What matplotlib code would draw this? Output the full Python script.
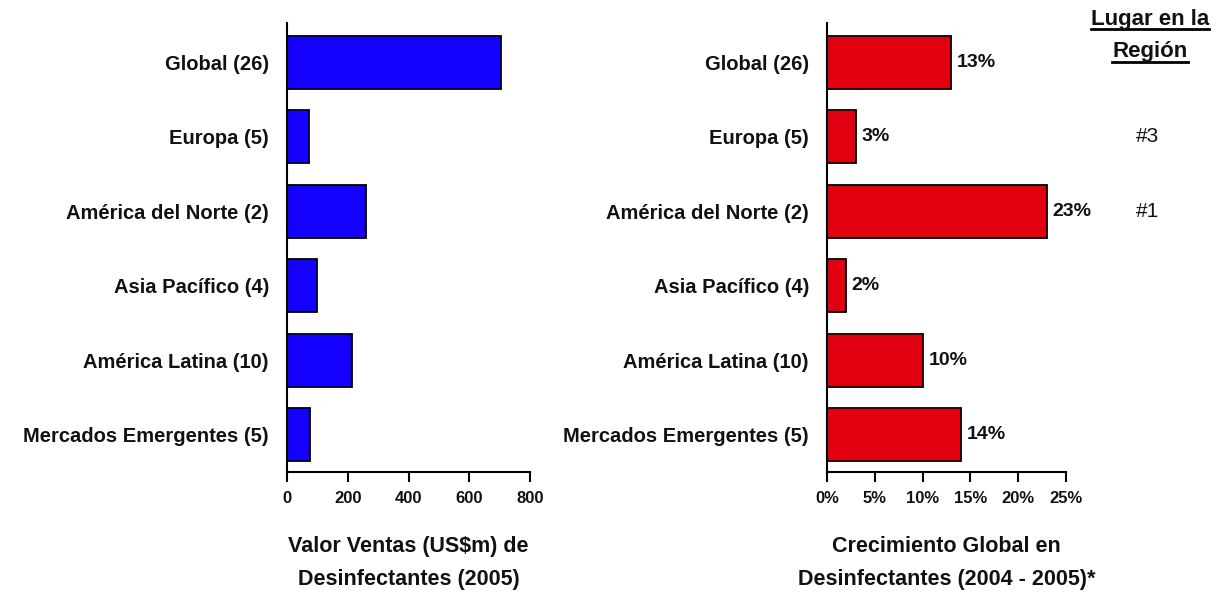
import matplotlib.pyplot as plt
from matplotlib.lines import Line2D
from matplotlib.transforms import blended_transform_factory
import numpy as np

# data
regiones = ["Global (26)", "Europa (5)", "América del Norte (2)",
            "Asia Pacífico (4)", "América Latina (10)", "Mercados Emergentes (5)"]
ventas = [706, 73, 260, 98, 215, 77]          # US$m 2005
crecimiento = [13, 3, 23, 2, 10, 14]          # % 2004-2005
lugar = ["", "#3", "#1", "", "", ""]
ventas_ticks = [0, 200, 400, 600, 800]
crec_ticks = [0, 5, 10, 15, 20, 25]

plt.rcParams['font.family'] = ['Liberation Sans', 'DejaVu Sans']

fig = plt.figure(figsize=(12.17, 5.95), dpi=100)
ax1 = fig.add_axes([287/1217, 1-472/595, 243/1217, 449/595])
ax2 = fig.add_axes([827/1217, 1-472/595, 239/1217, 449/595])

pos = np.arange(len(regiones))[::-1]

def style(ax):
    for s in ['top', 'right']:
        ax.spines[s].set_visible(False)
    for s in ['left', 'bottom']:
        ax.spines[s].set_linewidth(1.5)
    ax.set_ylim(-0.5, 5.53)
    ax.set_yticks(pos)
    ax.set_yticklabels(regiones, fontsize=14.5, fontweight='bold', color='#111111')
    ax.tick_params(axis='y', length=0, pad=13)
    ax.tick_params(axis='x', direction='out', length=7, width=1.5, pad=7,
                   labelsize=12, labelcolor='#111111')
    for t in ax.get_xticklabels():
        t.set_fontweight('bold')

ax1.barh(pos, ventas, height=0.71, color='#1400FF', edgecolor='black', linewidth=1.3)
ax1.set_xlim(0, 800)
ax1.set_xticks(ventas_ticks)
style(ax1)

ax2.barh(pos, crecimiento, height=0.71, color='#E0000F', edgecolor='black', linewidth=1.3)
ax2.set_xlim(0, 25)
ax2.set_xticks(crec_ticks)
ax2.set_xticklabels([f"{t}%" for t in crec_ticks])
style(ax2)
for p, v in zip(pos, crecimiento):
    ax2.text(v + 0.6, p, f"{v}%", va='center', ha='left', fontsize=14,
             fontweight='bold', color='#111111')

ax1.set_xlabel("Valor Ventas (US$m) de\nDesinfectantes (2005)", fontsize=15.5,
               fontweight='bold', labelpad=21, linespacing=1.8, color='#111111')
ax2.set_xlabel("Crecimiento Global en\nDesinfectantes (2004 - 2005)*", fontsize=15.5,
               fontweight='bold', labelpad=21, linespacing=1.8, color='#111111')

# rank column on the right
tr = blended_transform_factory(fig.transFigure, ax2.transData)
for p, l in zip(pos, lugar):
    if l:
        ax2.text(1148/1217, p, l, transform=tr, ha='center', va='center',
                 fontsize=15, color='#111111')

h1 = fig.text(1150/1217, 1-19/595, "Lugar en la", ha='center', va='center',
              fontsize=16, fontweight='bold', color='#111111')
h2 = fig.text(1150/1217, 1-52/595, "Región", ha='center', va='center',
              fontsize=16, fontweight='bold', color='#111111')

# underline the header
fig.canvas.draw()
r = fig.canvas.get_renderer()
inv = fig.transFigure.inverted()
for h in (h1, h2):
    bb = h.get_window_extent(r).transformed(inv)
    y = bb.y0 + 1/595
    fig.add_artist(Line2D([bb.x0, bb.x1], [y, y], transform=fig.transFigure,
                          color='black', lw=2))

fig.savefig("out.png", dpi=100)
